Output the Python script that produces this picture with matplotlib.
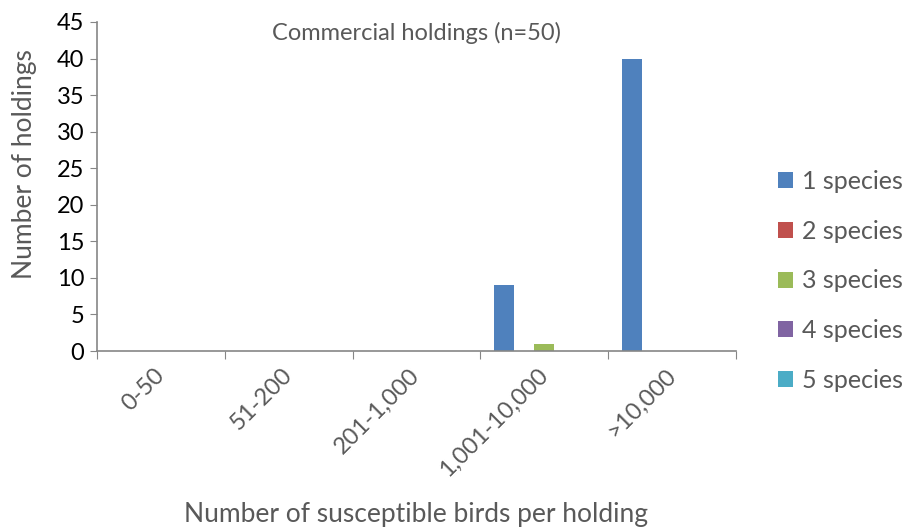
import matplotlib
matplotlib.use("Agg")
import matplotlib.pyplot as plt
from matplotlib.transforms import ScaledTranslation
import numpy as np

categories = ["0-50", "51-200", "201-1,000", "1,001-10,000", ">10,000"]
series_names = ["1 species", "2 species", "3 species", "4 species", "5 species"]
one_species = [0, 0, 0, 9, 40]
two_species = [0, 0, 0, 0, 0]
three_species = [0, 0, 0, 1, 0]
four_species = [0, 0, 0, 0, 0]
five_species = [0, 0, 0, 0, 0]
colors = ["#4F81BD", "#C0504D", "#9BBB59", "#8064A2", "#4BACC6"]

plt.rcParams["font.family"] = ["Lato", "DejaVu Sans"]
text_col = "#595959"
axis_col = "#868686"

fig = plt.figure(figsize=(9.04, 5.3), dpi=100)
ax = fig.add_axes([0.1073, 0.3377, 0.7069, 0.6208])

x = np.arange(len(categories))
width = 0.156
all_series = [one_species, two_species, three_species, four_species, five_species]
for i, vals in enumerate(all_series):
    ax.bar(x + (i - 2) * width, vals, width, color=colors[i], label=series_names[i])

ax.set_xlim(-0.5, len(categories) - 0.5)
ax.set_ylim(0, 45)
ax.set_yticks(range(0, 46, 5))
ax.set_xticks(np.arange(-0.5, len(categories), 1.0))
ax.set_xticklabels([])
ax.set_xticks(x, minor=True)
ax.set_xticklabels(categories, minor=True, rotation=45, ha="right", va="center",
                   rotation_mode="anchor", fontsize=17, color=text_col)
shift = ScaledTranslation(2 / 100, 0, fig.dpi_scale_trans)
for lab in ax.get_xticklabels(minor=True):
    lab.set_transform(lab.get_transform() + shift)
ax.tick_params(axis="x", which="minor", length=0, pad=15)
ax.tick_params(axis="x", which="major", length=6, color=axis_col, direction="out")
ax.tick_params(axis="y", length=5, color=axis_col, labelsize=17, labelcolor="black", pad=4)

for s in ["top", "right"]:
    ax.spines[s].set_visible(False)
for s in ["left", "bottom"]:
    ax.spines[s].set_color(axis_col)
    ax.spines[s].set_linewidth(1.2)

ax.text(0.5, 0.967, "Commercial holdings (n=50)", transform=ax.transAxes,
        ha="center", va="center", fontsize=17, color=text_col)
fig.text(0.027, 0.69, "Number of holdings", rotation=90, ha="center",
         va="center", fontsize=19, color=text_col)
fig.text(0.4607, 0.03, "Number of susceptible birds per holding", ha="center",
         va="center", fontsize=19, color=text_col)

leg = ax.legend(loc="center left", bbox_to_anchor=(0.8606, 0.47),
                bbox_transform=fig.transFigure, frameon=False, borderaxespad=0,
                borderpad=0, fontsize=18, handlelength=0.6, handleheight=0.6,
                labelspacing=1.07, handletextpad=0.36, labelcolor=text_col)

fig.savefig("out.png", dpi=100)
